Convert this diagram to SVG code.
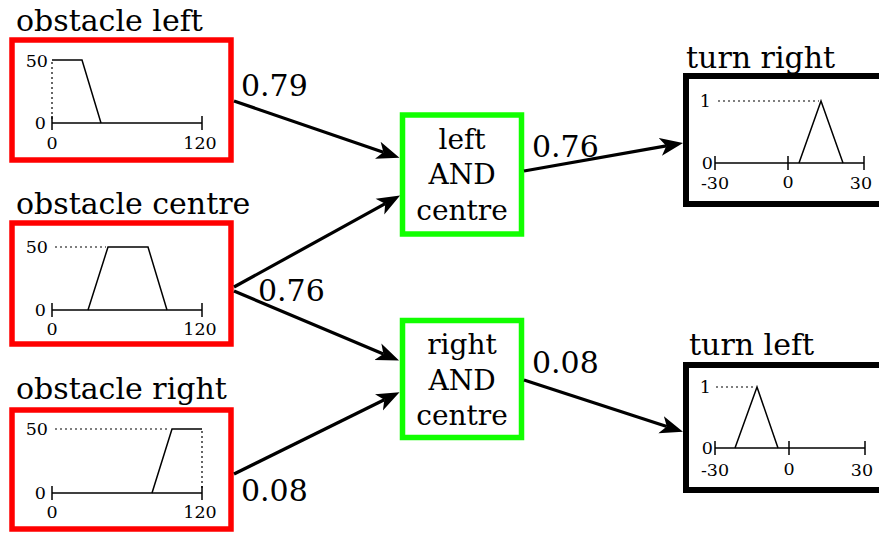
<svg xmlns="http://www.w3.org/2000/svg" width="879" height="533" viewBox="0 0 879 533">
<style>
text{font-family:"DejaVu Serif","Liberation Serif",serif;fill:#000}
.t{font-size:28px}
.h{font-size:30px}
.s{font-size:17.5px}
.m{text-anchor:middle}
.e{text-anchor:end}
.red{fill:#fff;stroke:#ff0000;stroke-width:5.5}
.grn{fill:#fff;stroke:#11ff00;stroke-width:5.5}
.blk{fill:#fff;stroke:#000;stroke-width:6}
.ax{fill:none;stroke:#000;stroke-width:1.5}
.dot{fill:none;stroke:#000;stroke-width:1.2;stroke-dasharray:2,3}
.c{fill:none;stroke:#000;stroke-width:3.2}
</style>
<defs>
<marker id="arr" markerUnits="userSpaceOnUse" markerWidth="26" markerHeight="20" viewBox="0 -10 26 20" refX="6" refY="0" orient="auto">
<path d="M23,0 L0,-9 L6,0 L0,9 Z" fill="#000"/>
</marker>
</defs>

<g id="obstacle-left">
<text class="h" x="16" y="31">obstacle left</text>
<rect class="red" x="12" y="40" width="219" height="120"/>
<line class="dot" x1="52" y1="62" x2="52" y2="121"/>
<line class="ax" x1="52" y1="123" x2="202" y2="123"/>
<line class="ax" x1="52" y1="116" x2="52" y2="130"/>
<line class="ax" x1="202" y1="116" x2="202" y2="130"/>
<polyline class="ax" points="52,60 82,60 101,123"/>
<text class="s e" x="48" y="67">50</text>
<text class="s e" x="46" y="129">0</text>
<text class="s m" x="52" y="149">0</text>
<text class="s m" x="200" y="149">120</text>
</g>

<g id="obstacle-centre">
<text class="h" x="16" y="214">obstacle centre</text>
<rect class="red" x="12" y="223" width="219" height="121"/>
<line class="dot" x1="55" y1="247" x2="106" y2="247"/>
<line class="ax" x1="52" y1="310" x2="202" y2="310"/>
<line class="ax" x1="52" y1="303" x2="52" y2="317"/>
<line class="ax" x1="202" y1="303" x2="202" y2="317"/>
<polyline class="ax" points="88,310 108,247 148,247 167,310"/>
<text class="s e" x="48" y="253">50</text>
<text class="s e" x="46" y="316">0</text>
<text class="s m" x="52" y="335">0</text>
<text class="s m" x="200" y="335">120</text>
</g>

<g id="obstacle-right">
<text class="h" x="16" y="399">obstacle right</text>
<rect class="red" x="12" y="410" width="219" height="119"/>
<line class="dot" x1="55" y1="429" x2="170" y2="429"/>
<line class="dot" x1="202" y1="431" x2="202" y2="491"/>
<line class="ax" x1="52" y1="493" x2="202" y2="493"/>
<line class="ax" x1="52" y1="486" x2="52" y2="500"/>
<line class="ax" x1="202" y1="486" x2="202" y2="500"/>
<polyline class="ax" points="152,493 172,429 202,429"/>
<text class="s e" x="48" y="435">50</text>
<text class="s e" x="46" y="499">0</text>
<text class="s m" x="52" y="518">0</text>
<text class="s m" x="200" y="518">120</text>
</g>

<g id="left-and-centre">
<rect class="grn" x="402.5" y="115" width="119" height="119"/>
<text class="t m" x="462" y="149">left</text>
<text class="t m" x="462" y="184">AND</text>
<text class="t m" x="462" y="220">centre</text>
</g>

<g id="right-and-centre">
<rect class="grn" x="402.5" y="320.5" width="119" height="117"/>
<text class="t m" x="462" y="354">right</text>
<text class="t m" x="462" y="390">AND</text>
<text class="t m" x="462" y="425">centre</text>
</g>

<g id="turn-right">
<text class="h" x="686" y="68">turn right</text>
<rect class="blk" x="686" y="76" width="220" height="128"/>
<line class="dot" x1="718" y1="101" x2="819" y2="101"/>
<line class="ax" x1="715" y1="163" x2="864" y2="163"/>
<line class="ax" x1="715" y1="156" x2="715" y2="170"/>
<line class="ax" x1="788" y1="156" x2="788" y2="170"/>
<line class="ax" x1="864" y1="156" x2="864" y2="170"/>
<polyline class="ax" points="799,163 821,101 843,163"/>
<text class="s e" x="711" y="107">1</text>
<text class="s e" x="713" y="169">0</text>
<text class="s m" x="715" y="189">-30</text>
<text class="s m" x="788" y="188">0</text>
<text class="s m" x="861" y="189">30</text>
</g>

<g id="turn-left">
<text class="h" x="689" y="355">turn left</text>
<rect class="blk" x="686" y="365" width="220" height="125"/>
<line class="dot" x1="716" y1="387" x2="755" y2="387"/>
<line class="ax" x1="715" y1="448" x2="865" y2="448"/>
<line class="ax" x1="715" y1="441" x2="715" y2="455"/>
<line class="ax" x1="789" y1="441" x2="789" y2="455"/>
<line class="ax" x1="865" y1="441" x2="865" y2="455"/>
<polyline class="ax" points="735,448 757,387 778,448"/>
<text class="s e" x="711" y="393">1</text>
<text class="s e" x="713" y="454">0</text>
<text class="s m" x="715" y="476">-30</text>
<text class="s m" x="789" y="475">0</text>
<text class="s m" x="862" y="476">30</text>
</g>

<g id="connectors">
<line class="c" x1="234" y1="101" x2="383.4" y2="152.3" marker-end="url(#arr)"/>
<line class="c" x1="234" y1="287" x2="385.2" y2="203.7" marker-end="url(#arr)"/>
<line class="c" x1="234" y1="291" x2="383.4" y2="354.0" marker-end="url(#arr)"/>
<line class="c" x1="234" y1="474" x2="384.3" y2="399.7" marker-end="url(#arr)"/>
<line class="c" x1="524" y1="171" x2="666.3" y2="145.9" marker-end="url(#arr)"/>
<line class="c" x1="524" y1="380" x2="666.8" y2="426.6" marker-end="url(#arr)"/>
<text class="h" x="241" y="96">0.79</text>
<text class="h" x="532" y="157">0.76</text>
<text class="h" x="258" y="301">0.76</text>
<text class="h" x="532" y="373">0.08</text>
<text class="h" x="241" y="501">0.08</text>
</g>
</svg>
